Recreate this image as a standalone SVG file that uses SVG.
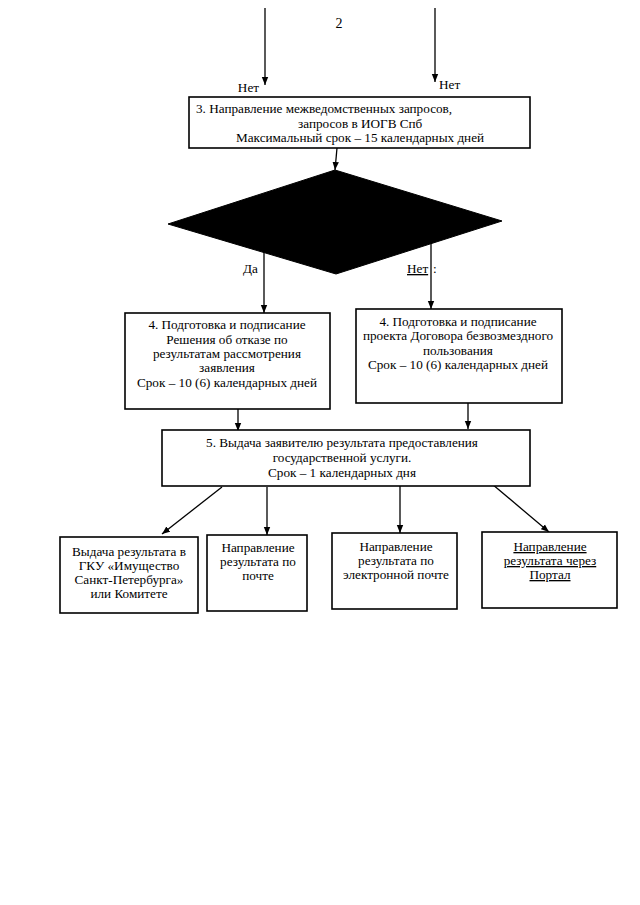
<svg xmlns="http://www.w3.org/2000/svg" width="640" height="905" viewBox="0 0 640 905">
<defs>
<style>
.box{fill:#fff;stroke:#000;stroke-width:1.6}
.t{font-family:"Liberation Serif","Times New Roman",serif;font-size:13.2px;fill:#000}
.c{text-anchor:middle}
.ln{stroke:#000;stroke-width:1.3;fill:none}
</style>
<marker id="ah" viewBox="0 0 8 8" refX="8" refY="4" markerWidth="8" markerHeight="8" markerUnits="userSpaceOnUse" orient="auto">
<path d="M0,0.8 L8,4 L0,7.2 Z" fill="#000"/>
</marker>
</defs>
<rect width="640" height="905" fill="#fff"/>
<text class="t" x="339" y="28" style="font-size:14px" text-anchor="middle">2</text>

<g id="connectors">
<line class="ln" x1="265" y1="8" x2="265" y2="85" marker-end="url(#ah)"/>
<line class="ln" x1="435" y1="8" x2="435" y2="82" marker-end="url(#ah)"/>
<line class="ln" x1="337" y1="148" x2="335" y2="170" marker-end="url(#ah)"/>
<line class="ln" x1="264" y1="250" x2="264" y2="313" marker-end="url(#ah)"/>
<line class="ln" x1="431" y1="240" x2="431" y2="309" marker-end="url(#ah)"/>
<line class="ln" x1="238" y1="409" x2="238" y2="431" marker-end="url(#ah)"/>
<line class="ln" x1="468" y1="403" x2="468" y2="429" marker-end="url(#ah)"/>
<line class="ln" x1="222" y1="487" x2="162" y2="534" marker-end="url(#ah)"/>
<line class="ln" x1="267" y1="487" x2="267" y2="535" marker-end="url(#ah)"/>
<line class="ln" x1="400" y1="485" x2="400" y2="533" marker-end="url(#ah)"/>
<line class="ln" x1="492" y1="484" x2="549" y2="532" marker-end="url(#ah)"/>
<text class="t" x="259" y="92" text-anchor="end">Нет</text>
<text class="t" x="439" y="89">Нет</text>
<text class="t" x="243" y="273">Да</text>
<text class="t" x="407" y="273" text-decoration="underline">Нет</text>
<text class="t" x="433" y="273">:</text>
</g>

<g id="n3">
<rect class="box" x="189" y="97" width="341" height="51"/>
<text class="t" x="196" y="113">3. Направление межведомственных запросов,</text>
<text class="t" x="298" y="128">запросов в ИОГВ Спб</text>
<text class="t" x="236" y="142">Максимальный срок – 15 календарных дней</text>
</g>

<g id="decision">
<polygon points="335,170 502,221 336,274 168,224" fill="#000" stroke="#000"/>
</g>

<g id="n4a">
<rect class="box" x="125" y="313" width="205" height="96"/>
<text class="t c" x="227" y="329">4. Подготовка и подписание</text>
<text class="t c" x="227" y="344">Решения об отказе по</text>
<text class="t c" x="227" y="358">результатам рассмотрения</text>
<text class="t c" x="227" y="372">заявления</text>
<text class="t c" x="227" y="387">Срок – 10 (6) календарных дней</text>
</g>

<g id="n4b">
<rect class="box" x="356" y="309" width="206" height="94"/>
<text class="t c" x="458" y="326">4. Подготовка и подписание</text>
<text class="t c" x="458" y="340">проекта Договора безвозмездного</text>
<text class="t c" x="458" y="355">пользования</text>
<text class="t c" x="458" y="369">Срок – 10 (6) календарных дней</text>
</g>

<g id="n5">
<rect class="box" x="162" y="430" width="368" height="56"/>
<text class="t c" x="342" y="447">5. Выдача заявителю результата предоставления</text>
<text class="t c" x="342" y="462">государственной услуги.</text>
<text class="t c" x="342" y="477">Срок – 1 календарных дня</text>
</g>

<g id="r1">
<rect class="box" x="60" y="537" width="138" height="76"/>
<text class="t c" x="129" y="556">Выдача результата в</text>
<text class="t c" x="129" y="570">ГКУ «Имущество</text>
<text class="t c" x="129" y="584">Санкт-Петербурга»</text>
<text class="t c" x="129" y="598">или Комитете</text>
</g>

<g id="r2">
<rect class="box" x="207" y="535" width="100" height="76"/>
<text class="t c" x="258" y="552">Направление</text>
<text class="t c" x="258" y="566">результата по</text>
<text class="t c" x="258" y="580">почте</text>
</g>

<g id="r3">
<rect class="box" x="332" y="533" width="125" height="76"/>
<text class="t c" x="396" y="551">Направление</text>
<text class="t c" x="396" y="565">результата по</text>
<text class="t c" x="396" y="579">электронной почте</text>
</g>

<g id="r4">
<rect class="box" x="482" y="532" width="135" height="76"/>
<text class="t c" x="550" y="551" text-decoration="underline">Направление</text>
<text class="t c" x="550" y="565" text-decoration="underline">результата через</text>
<text class="t c" x="550" y="579" text-decoration="underline">Портал</text>
</g>
</svg>
